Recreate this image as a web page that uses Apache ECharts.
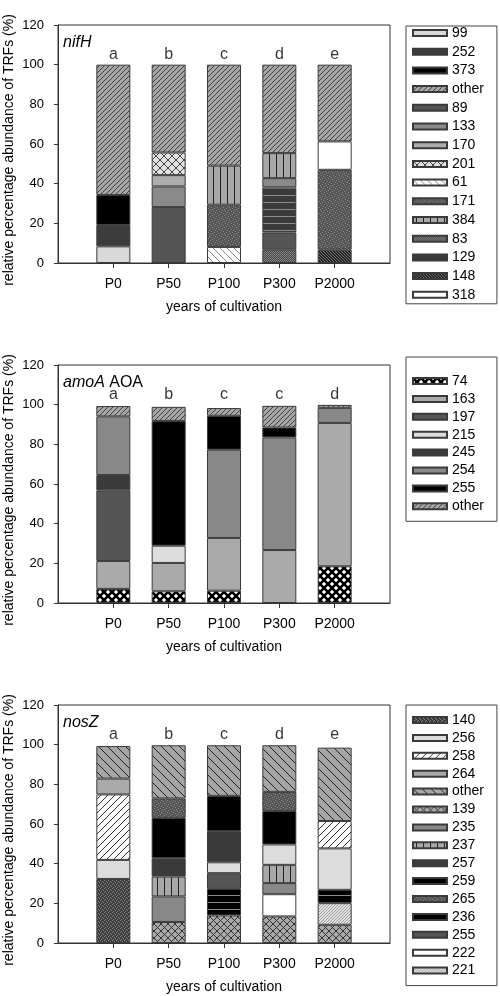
<!DOCTYPE html>
<html>
<head>
<meta charset="utf-8">
<script src="https://cdn.jsdelivr.net/npm/echarts@6/dist/echarts.min.js"></script>
<style>html,body{margin:0;padding:0;background:#fff}#c{width:500px;height:996px}</style>
</head>
<body>
<div id="c"></div>
<script>
// ---------------- DATA ----------------
const categories = ['P0', 'P50', 'P100', 'P300', 'P2000'];

// nifH: rows [TRF, P0, P50, P100, P300, P2000] in stacking order (bottom -> top)
const nifHRows = [
  ['61',   null, null, 8.1,  null, null],
  ['83',   null, null, null, 6.7,  null],
  ['89',   null, 28.2, null, 8.7,  null],
  ['99',   8.4,  null, null, null, null],
  ['129',  null, null, null, 22.7, null],
  ['133',  null, 10.4, null, 4.7,  null],
  ['148',  null, null, null, null, 6.7],
  ['170',  null, 5.7,  null, null, null],
  ['171',  null, null, 21.3, null, 40.3],
  ['201',  null, 11.4, null, null, null],
  ['252',  10.8, null, null, null, null],
  ['318',  null, null, null, null, 14.3],
  ['373',  15.1, null, null, null, null],
  ['384',  null, null, 19.7, 12.6, null],
  ['other',65.7, 44.3, 50.9, 44.6, 38.7]
];
const nifHLegend = ['99','252','373','other','89','133','170','201','61','171','384','83','129','148','318'];
const nifHLetters = ['a','b','c','d','e'];

// amoA AOA
const amoARows = [
  ['74',   7.1,  5.9,  6.2,  null, 18.5],
  ['163',  14.1, 14.3, 26.6, 26.7, 72.3],
  ['197',  35.6, null, null, null, null],
  ['215',  null, 8.7,  null, null, null],
  ['245',  7.7,  null, null, null, null],
  ['254',  29.6, null, 44.5, 56.8, 7.6],
  ['255',  null, 62.9, 17.1, 5.0,  null],
  ['other',5.2,  7.1,  3.9,  10.9, 1.5]
];
const amoALegend = ['74','163','197','215','245','254','255','other'];
const amoALetters = ['a','b','c','c','d'];

// nosZ
const nosZRows = [
  ['140',  32.3, null, null, null, null],
  ['139',  null, 10.6, 13.9, 13.4, 9.2],
  ['221',  null, null, null, null, 10.9],
  ['222',  null, null, null, 11.2, null],
  ['235',  null, 12.9, null, 5.6,  null],
  ['236',  null, null, 13.4, null, 6.7],
  ['237',  null, 10.0, null, 9.2,  null],
  ['255',  null, null, 7.9,  null, null],
  ['256',  9.6,  null, 5.5,  10.3, 20.9],
  ['257',  null, 9.2,  15.7, null, null],
  ['258',  33.0, null, null, null, 13.8],
  ['259',  null, 20.4, 17.8, 16.8, null],
  ['264',  8.0,  null, null, null, null],
  ['265',  null, 9.8,  null, 9.7,  null],
  ['other',16.4, 26.8, 25.5, 23.5, 37.0]
];
const nosZLegend = ['140','256','258','264','other','139','235','237','257','259','265','236','255','222','221'];
const nosZLetters = ['a','b','c','d','e'];

const yTicks = [0, 20, 40, 60, 80, 100, 120];

// ---------------- PATTERNS / STYLES ----------------
function pat(w, h, bg, draw) {
  const c = document.createElement('canvas');
  c.width = w; c.height = h;
  const ctx = c.getContext('2d');
  ctx.fillStyle = bg; ctx.fillRect(0, 0, w, h);
  if (draw) draw(ctx, w, h);
  return { image: c, repeat: 'repeat' };
}
function fwd(ctx, p, col, lw) { // "/" lines
  ctx.strokeStyle = col; ctx.lineWidth = lw; ctx.beginPath();
  for (let k = -p; k <= p; k += p) { ctx.moveTo(k, p); ctx.lineTo(k + p, 0); }
  ctx.stroke();
}
function bwd(ctx, p, col, lw) { // "\" lines
  ctx.strokeStyle = col; ctx.lineWidth = lw; ctx.beginPath();
  for (let k = -p; k <= p; k += p) { ctx.moveTo(k, 0); ctx.lineTo(k + p, p); }
  ctx.stroke();
}
function dots(ctx, pts, col) {
  ctx.fillStyle = col;
  pts.forEach(q => ctx.fillRect(q[0], q[1], 1, 1));
}
const dotPts = [[0,0],[3,1],[1,3],[4,4],[2,5],[5,2]];
const P = {
  otherFwd: pat(5, 5, '#a6a6a6', (c, w) => fwd(c, w, '#333', 0.9)),
  otherBwd: pat(9, 9, '#a6a6a6', (c, w) => bwd(c, w, '#222', 1)),
  cross201: pat(8, 8, '#e2e2e2', (c, w) => { fwd(c, w, '#444', 1); bwd(c, w, '#444', 1); }),
  bwd61: pat(7, 7, '#ffffff', (c, w) => bwd(c, w, '#888', 1)),
  dot171: pat(6, 6, '#555555', (c) => dots(c, dotPts, '#8a8a8a')),
  vert: pat(7, 4, '#a8a8a8', (c) => { c.fillStyle = '#222'; c.fillRect(3, 0, 1, 4); }),
  chk83: pat(2, 2, '#444', (c) => { c.fillStyle = '#888'; c.fillRect(0, 0, 1, 1); c.fillRect(1, 1, 1, 1); }),
  chk148: pat(3, 3, '#222', (c) => { c.fillStyle = '#777'; c.fillRect(0, 0, 1, 1); c.fillRect(1, 1, 1, 1); c.fillRect(2, 2, 1, 1); }),
  hor129: pat(4, 7, '#3a3a3a', (c) => { c.fillStyle = '#8c8c8c'; c.fillRect(0, 6, 4, 1); }),
  hor236: pat(4, 7, '#000000', (c) => { c.fillStyle = '#8c8c8c'; c.fillRect(0, 6, 4, 1); }),
  cross74: pat(8, 8, '#ffffff', (c, w) => { fwd(c, w, '#000', 2.6); bwd(c, w, '#000', 2.6); }),
  cross139: pat(7, 7, '#a8a8a8', (c, w) => { fwd(c, w, '#333', 1); bwd(c, w, '#333', 1); }),
  fwd258: pat(7, 7, '#ffffff', (c, w) => fwd(c, w, '#333', 1)),
  dot140: pat(4, 4, '#3c3c3c', (c) => dots(c, [[0,0],[2,1],[1,3],[3,2]], '#8a8a8a')),
  dot221: pat(3, 3, '#e4e4e4', (c) => dots(c, [[0,0],[2,1],[1,2]], '#9a9a9a'))
};
const nifHStyle = {
  '99': '#d9d9d9', '252': '#3c3c3c', '373': '#000000', 'other': P.otherFwd, '89': '#555555',
  '133': '#8a8a8a', '170': '#adadad', '201': P.cross201, '61': P.bwd61, '171': P.dot171,
  '384': P.vert, '83': P.chk83, '129': P.hor129, '148': P.chk148, '318': '#ffffff'
};
const amoAStyle = {
  '74': P.cross74, '163': '#aaaaaa', '197': '#555555', '215': '#dddddd', '245': '#3a3a3a',
  '254': '#888888', '255': '#000000', 'other': P.otherFwd
};
const nosZStyle = {
  '140': P.dot140, '256': '#dcdcdc', '258': P.fwd258, '264': '#aaaaaa', 'other': P.otherBwd,
  '139': P.cross139, '235': '#888888', '237': P.vert, '257': '#3a3a3a', '259': '#000000',
  '265': P.dot171, '236': P.hor236, '255': '#555555', '222': '#ffffff', '221': P.dot221
};

// ---------------- LAYOUT ----------------
const FONT = "'Liberation Sans', Arial, Helvetica, sans-serif";
const tops = [25, 365, 705];
const panels = [
  { key: 'nifH', rows: nifHRows, legend: nifHLegend, letters: nifHLetters, style: nifHStyle,
    title: '{i|nifH}', legTop: 26, legPad: [0, 13, 2, 6], gap: 4.7 },
  { key: 'amoA', rows: amoARows, legend: amoALegend, letters: amoALetters, style: amoAStyle,
    title: '{i|amoA} AOA', legTop: 357, legPad: [17, 13, 8, 6], gap: 3.9 },
  { key: 'nosZ', rows: nosZRows, legend: nosZLegend, letters: nosZLetters, style: nosZStyle,
    title: '{i|nosZ}', legTop: 705, legPad: [8, 13, 8, 6], gap: 3.9 }
];

const xCats = [''].concat(categories).concat(['']);
const grid = [], xAxis = [], yAxis = [], series = [], legend = [], title = [];
panels.forEach((p, i) => {
  grid.push({ left: 58, top: tops[i], width: 332, height: 238, show: true, outerBoundsMode: 'none',
    containLabel: false, borderColor: '#333', borderWidth: 1, backgroundColor: 'transparent' });
  xAxis.push({
    gridIndex: i, type: 'category', data: xCats, boundaryGap: false,
    axisLine: { lineStyle: { color: '#333', width: 1 } },
    axisTick: { show: true, length: 5, interval: (idx, v) => v !== '', lineStyle: { color: '#333' } },
    axisLabel: { interval: 0, color: '#000', fontSize: 14, fontFamily: FONT, margin: 14 },
    splitLine: { show: false },
    name: 'years of cultivation', nameLocation: 'middle', nameGap: 37, nameMoveOverlap: false,
    nameTextStyle: { color: '#000', fontSize: 14, fontFamily: FONT }
  });
  yAxis.push({
    gridIndex: i, type: 'value', min: yTicks[0], max: yTicks[yTicks.length - 1], interval: 20,
    axisLine: { show: true, lineStyle: { color: '#333', width: 1 } },
    axisTick: { show: true, length: 4, lineStyle: { color: '#333' } },
    axisLabel: { color: '#000', fontSize: 13, fontFamily: FONT, margin: 14 },
    splitLine: { show: false },
    name: 'relative percentage abundance of TRFs (%)', nameLocation: 'middle', nameGap: 42,
    nameMoveOverlap: false,
    nameTextStyle: { color: '#000', fontSize: 14, fontFamily: FONT, padding: [0, 12, 0, 0] }
  });
  p.rows.forEach(r => {
    const code = r[0];
    series.push({
      type: 'bar', name: p.key + '|' + code, xAxisIndex: i, yAxisIndex: i, stack: 's' + i,
      barWidth: 34, silent: true,
      data: [null].concat(r.slice(1)).concat([null]).map(v => v == null ? '-' : v),
      itemStyle: { color: p.style[code], borderColor: '#3a3a3a', borderWidth: 1 },
      emphasis: { disabled: true }
    });
  });
  series.push({
    type: 'scatter', xAxisIndex: i, yAxisIndex: i, silent: true, symbolSize: 1,
    itemStyle: { color: 'rgba(0,0,0,0)' },
    data: p.letters.map((l, k) => [k + 1, 105]),
    label: { show: true, position: 'inside', color: '#000', fontSize: 16, fontFamily: FONT,
      formatter: (d) => p.letters[d.dataIndex] }
  });
  legend.push({
    orient: 'vertical', left: 406, top: p.legTop, height: 300, icon: 'rect', itemWidth: 34, itemHeight: 6,
    itemGap: p.gap, selectedMode: false, borderColor: '#444', borderWidth: 1, padding: p.legPad,
    data: p.legend.map(c => p.key + '|' + c),
    formatter: (n) => n.split('|')[1],
    textStyle: { color: '#000', fontSize: 14, fontFamily: FONT }
  });
  title.push({
    text: p.title, left: 63, top: tops[i] + 10, padding: 0,
    textStyle: { color: '#000', fontSize: 16, fontWeight: 'normal', fontFamily: FONT,
      rich: { i: { fontStyle: 'italic', fontSize: 16, fontFamily: FONT, color: '#000' } } }
  });
});

const chart = echarts.init(document.getElementById('c'), null, { renderer: 'canvas' });
chart.setOption({ animation: false, backgroundColor: '#fff', title, grid, xAxis, yAxis, legend, series });
</script>
</body>
</html>
